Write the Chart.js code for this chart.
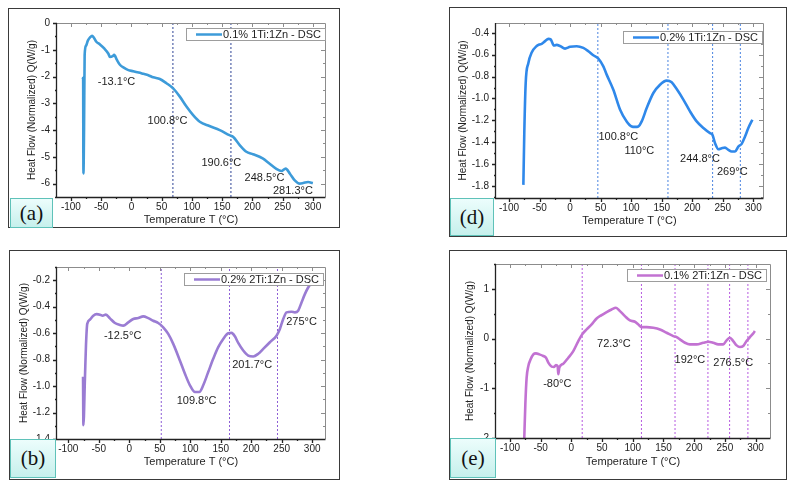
<!DOCTYPE html>
<html>
<head>
<meta charset="utf-8">
<script src="https://cdn.jsdelivr.net/npm/chart.js@4.4.0/dist/chart.umd.min.js"></script>
<style>
body { margin:0; background:#fff; width:794px; height:487px; position:relative; overflow:hidden; font-family:"Liberation Sans", Arial, sans-serif; }
.frame { position:absolute; border:1px solid #3a3a3a; box-sizing:border-box; }
canvas { position:absolute; }
.tag { position:absolute; box-sizing:border-box; border:1px solid #5fc2b9; background:linear-gradient(#ecfdfc, #c6f0ec);
       font-family:"Liberation Serif","DejaVu Serif",serif; font-size:21px; color:#111;
       display:flex; align-items:center; justify-content:center; }
</style>
</head>
<body>
<div class="frame" style="left:8px;top:8px;width:332px;height:220px"></div>
<div class="frame" style="left:9px;top:250px;width:331px;height:230px"></div>
<div class="frame" style="left:449px;top:7px;width:338px;height:230px"></div>
<div class="frame" style="left:449px;top:250px;width:338px;height:230px"></div>
<canvas id="chartA" width="332" height="220" style="left:8px;top:8px"></canvas>
<canvas id="chartB" width="331" height="230" style="left:9px;top:250px"></canvas>
<canvas id="chartD" width="338" height="230" style="left:449px;top:7px"></canvas>
<canvas id="chartE" width="338" height="230" style="left:449px;top:250px"></canvas>
<div class="tag" style="left:10px;top:198px;width:43px;height:30px">(a)</div>
<div class="tag" style="left:10px;top:439px;width:46px;height:39px">(b)</div>
<div class="tag" style="left:450px;top:198px;width:44px;height:38px">(d)</div>
<div class="tag" style="left:450px;top:438px;width:46px;height:40px">(e)</div>
<script>
// shared x ticks
var xTicks = [-100, -50, 0, 50, 100, 150, 200, 250, 300];

// (a) 0.1% 1Ti:1Zn
var aTemp = [-80.5,-79.8,-79.3,-78.3,-77.3,-75,-72,-68,-65,-62,-58,-52,-45,-38,-35.5,-31,-28.5,-24,-19,-12,-5,3,12,20,28,36,47,58,69,80,91,102,113,129,146,162,168,179,190,201,217,228,239,248,255,262,270,278,284,292,300];
var aFlow = [-2.1,-2.05,-5.62,-4.0,-1.2,-0.85,-0.66,-0.53,-0.48,-0.55,-0.7,-0.8,-0.95,-1.15,-1.27,-1.24,-1.19,-1.38,-1.56,-1.68,-1.76,-1.8,-1.85,-1.9,-1.95,-2.03,-2.09,-2.25,-2.44,-2.75,-3.12,-3.44,-3.69,-3.85,-4.0,-4.19,-4.25,-4.56,-4.81,-4.9,-5.06,-5.25,-5.44,-5.53,-5.44,-5.63,-5.88,-6.0,-5.98,-5.94,-5.98];
var aMarks = [68.6, 164.5];
var aNoteText = ["-13.1°C", "100.8°C", "190.6°C", "248.5°C", "281.3°C"];
var aNoteX = [-24.6, 59.6, 148.7, 220, 267];
var aNoteY = [-2.19, -3.66, -5.23, -5.78, -6.28];
var aYTicks = [0, -1, -2, -3, -4, -5, -6];

// (d) 0.2% 1Ti:1Zn
var dTemp = [-76.5,-75,-72.7,-68.3,-62.9,-54.7,-50.3,-46.5,-41,-35.6,-31.8,-26.3,-22,-16.5,-8.3,0,10.8,21.7,29.9,38,46.3,54.4,59.9,70.8,81.7,92.6,100.8,106.3,111.7,117.2,125.4,136.3,147.2,158.1,166.3,174.5,185.4,196.3,207.2,218.2,229.1,232.9,237.3,242.7,248.2,253.6,259.1,264.5,270,275.4,280.9,286.4,291.8,298.4];
var dFlow = [-1.79,-1.32,-0.86,-0.675,-0.58,-0.52,-0.507,-0.5,-0.476,-0.455,-0.46,-0.516,-0.51,-0.52,-0.544,-0.528,-0.522,-0.538,-0.568,-0.605,-0.635,-0.706,-0.782,-0.92,-1.1,-1.21,-1.256,-1.26,-1.256,-1.21,-1.088,-0.95,-0.874,-0.837,-0.852,-0.914,-1.01,-1.118,-1.21,-1.27,-1.317,-1.33,-1.409,-1.464,-1.455,-1.449,-1.47,-1.485,-1.485,-1.44,-1.415,-1.348,-1.27,-1.195];
var dMarks = [45.4, 160.2, 233.3, 278.7];
var dNoteText = ["100.8°C", "110°C", "244.8°C", "269°C"];
var dNoteX = [79, 113.4, 212.7, 265.6];
var dNoteY = [-1.348, -1.476, -1.556, -1.675];
var dYTicks = [-0.4, -0.6, -0.8, -1.0, -1.2, -1.4, -1.6, -1.8];

// (b) 0.2% 2Ti:1Zn
var bTemp = [-75.8,-75.2,-72.7,-71,-68.9,-64.5,-59,-53.6,-48,-43.7,-38.3,-31.7,-23.5,-15.3,-9.8,-1.6,6.6,14.8,23,31.1,39.3,47.5,55.7,63.9,72.1,83,91.3,99.5,107.7,114.8,121.3,129.5,137.7,145.9,154.1,162.3,167.8,173.2,178.7,186.9,195.1,203.3,211.5,219.7,230.6,241.5,247,252.5,257.9,266.1,271.6,277,282.5,288,293.4,298.9];
var bFlow = [-0.93,-1.295,-0.944,-0.694,-0.53,-0.498,-0.468,-0.456,-0.46,-0.468,-0.46,-0.488,-0.523,-0.538,-0.543,-0.518,-0.493,-0.486,-0.473,-0.486,-0.506,-0.523,-0.556,-0.606,-0.681,-0.806,-0.907,-0.994,-1.045,-1.045,-0.994,-0.894,-0.794,-0.706,-0.644,-0.601,-0.598,-0.624,-0.674,-0.731,-0.769,-0.776,-0.756,-0.719,-0.669,-0.619,-0.568,-0.493,-0.443,-0.438,-0.443,-0.43,-0.368,-0.305,-0.255,-0.218];
var bMarks = [52.5, 164.4, 243.1];
var bNoteText = ["-12.5°C", "109.8°C", "201.7°C", "275°C"];
var bNoteX = [-10.9, 110.4, 201.6, 282.5];
var bNoteY = [-0.619, -1.112, -0.839, -0.518];
var bYTicks = [-0.2, -0.4, -0.6, -0.8, -1.0, -1.2, -1.4];

// (e) 0.1% 2Ti:1Zn
var eTemp = [-77,-75,-72.9,-70.1,-66.4,-62,-57.7,-52.2,-45.7,-41.4,-37.6,-32.2,-28.4,-25.1,-22.4,-21.3,-19.7,-13.2,-5,3.1,11.3,18.3,24.8,33,41.1,49.3,57.4,65.5,72.6,79.1,87.2,95.4,103.5,109,114.4,122.5,133.4,144.2,155.1,166,171.4,176.8,185,193.1,204,214.8,222.9,231.1,239.2,247.4,252.8,258.2,263.6,269.1,274.5,279.9,285.3,290.8,296.2,298.9];
var eFlow = [-2.1,-1.32,-0.786,-0.552,-0.418,-0.318,-0.298,-0.318,-0.351,-0.385,-0.485,-0.565,-0.572,-0.532,-0.552,-0.719,-0.585,-0.505,-0.385,-0.251,-0.05,0.097,0.184,0.284,0.405,0.472,0.532,0.585,0.619,0.552,0.452,0.365,0.338,0.284,0.231,0.231,0.217,0.184,0.117,0.05,0.03,-0.017,-0.084,-0.117,-0.117,-0.084,-0.064,-0.084,-0.117,-0.117,-0.037,0.017,-0.05,-0.137,-0.171,-0.151,-0.05,0.03,0.104,0.151];
var eMarks = [17.6, 114.1, 168.8, 222.4, 257.7, 287.5];
var eNoteText = ["-80°C", "72.3°C", "192°C", "276.5°C"];
var eNoteX = [-22.9, 69.3, 193.1, 263.6];
var eNoteY = [-0.906, -0.104, -0.438, -0.485];
var eYTicks = [1, 0, -1, -2];

var FONT = '"Liberation Sans", Arial, sans-serif';

// frame: dark left/bottom axes, grey top/right, ticks (inward on top/right)
var boxPlugin = {
    id: 'box',
    afterDatasetsDraw: function(chart) {
        var a = chart.chartArea, c = chart.ctx, xs = chart.scales.x, ys = chart.scales.y;
        c.save();
        c.strokeStyle = '#8c8c8c';
        c.lineWidth = 1;
        c.beginPath();
        c.moveTo(a.left, a.top + 0.5); c.lineTo(a.right + 0.5, a.top + 0.5); c.lineTo(a.right + 0.5, a.bottom);
        xs.ticks.forEach(function(t) {
            var p = Math.round(xs.getPixelForValue(t.value)) + 0.5;
            c.moveTo(p, a.top); c.lineTo(p, a.top + (t.label ? 4 : 2));
        });
        ys.ticks.forEach(function(t) {
            var p = Math.round(ys.getPixelForValue(t.value)) + 0.5;
            c.moveTo(a.right, p); c.lineTo(a.right - (t.label ? 4 : 2), p);
        });
        c.stroke();
        c.strokeStyle = '#222';
        c.lineWidth = 1.3;
        c.beginPath();
        c.moveTo(a.left - 0.5, a.top); c.lineTo(a.left - 0.5, a.bottom + 0.5); c.lineTo(a.right + 0.5, a.bottom + 0.5);
        xs.ticks.forEach(function(t) {
            var p = Math.round(xs.getPixelForValue(t.value)) + 0.5;
            c.moveTo(p, a.bottom); c.lineTo(p, a.bottom + (t.label ? 4 : 2));
        });
        ys.ticks.forEach(function(t) {
            var p = Math.round(ys.getPixelForValue(t.value)) + 0.5;
            c.moveTo(a.left, p); c.lineTo(a.left - (t.label ? 4 : 2), p);
        });
        c.stroke();
        c.restore();
    }
};

// temperature notes
var notePlugin = {
    id: 'notes',
    afterDatasetsDraw: function(chart, args, opts) {
        var c = chart.ctx, xs = chart.scales.x, ys = chart.scales.y;
        c.save();
        c.font = '11px ' + FONT;
        c.fillStyle = '#1e1e1e';
        c.textAlign = 'center';
        c.textBaseline = 'middle';
        opts.text.forEach(function(t, i) {
            c.fillText(t, xs.getPixelForValue(opts.x[i]), ys.getPixelForValue(opts.y[i]));
        });
        c.restore();
    }
};

// legend box inside plot, top right
var legendPlugin = {
    id: 'boxLegend',
    afterDraw: function(chart, args, opts) {
        var a = chart.chartArea, c = chart.ctx;
        var ds = chart.data.datasets[0];
        var w = 139, h = 12;
        var left = a.right - opts.right - w, top = a.top + opts.top;
        c.save();
        c.fillStyle = '#fff';
        c.fillRect(left, top, w, h);
        c.strokeStyle = '#9d9d9d';
        c.lineWidth = 1;
        c.strokeRect(left + 0.5, top + 0.5, w, h);
        c.strokeStyle = ds.borderColor;
        c.lineWidth = 2.5;
        c.beginPath();
        c.moveTo(left + 10, top + h / 2 + 0.5); c.lineTo(left + 36, top + h / 2 + 0.5);
        c.stroke();
        c.font = '11px ' + FONT;
        c.fillStyle = '#1e1e1e';
        c.textBaseline = 'middle';
        c.fillText(ds.label, left + 37, top + h / 2 + 1);
        c.restore();
    }
};

function makePanel(id, p) {
    var datasets = [{
        label: p.label,
        data: p.temp.map(function(t, i) { return { x: t, y: p.flow[i] }; }),
        borderColor: p.color,
        borderWidth: 2.6,
        pointRadius: 0,
        cubicInterpolationMode: 'monotone',
        fill: false
    }];
    p.marks.forEach(function(m) {
        datasets.push({
            label: '',
            data: [{ x: m, y: p.yMin }, { x: m, y: p.yMax }],
            borderColor: p.markColor,
            borderWidth: 1,
            borderDash: [2, 2],
            pointRadius: 0
        });
    });

    var xAll = [];
    for (var v = -125; v <= 325; v += 25) if (v >= p.xMin && v <= p.xMax) xAll.push(v);
    var yAll = [];
    var ys = p.yTicks.slice().sort(function(a, b) { return a - b; });
    var half = (ys[1] - ys[0]) / 2;
    for (var k = 0; k < ys.length; k++) {
        yAll.push(ys[k]);
        if (ys[k] + half <= p.yMax) yAll.push(ys[k] + half);
    }
    if (ys[0] - half >= p.yMin) yAll.unshift(ys[0] - half);

    new Chart(document.getElementById(id).getContext('2d'), {
        type: 'line',
        data: { datasets: datasets },
        plugins: [boxPlugin, notePlugin, legendPlugin],
        options: {
            responsive: false,
            animation: false,
            devicePixelRatio: 1,
            layout: { padding: { left: 0, top: p.padTop, right: p.padRight, bottom: 0 } },
            scales: {
                x: {
                    type: 'linear',
                    min: p.xMin,
                    max: p.xMax,
                    grid: { display: false, drawTicks: false },
                    border: { display: false },
                    afterBuildTicks: function(s) { s.ticks = xAll.map(function(v) { return { value: v }; }); },
                    afterFit: function(s) { s.height = p.xHeight; s.paddingLeft = 0; s.paddingRight = 0; },
                    ticks: {
                        autoSkip: false,
                        maxRotation: 0,
                        padding: 4,
                        color: '#222',
                        font: { family: FONT, size: 10 },
                        callback: function(v) { return xTicks.indexOf(v) >= 0 ? String(v) : ''; }
                    },
                    title: {
                        display: true,
                        text: 'Temperature T (°C)',
                        color: '#1e1e1e',
                        font: { family: FONT, size: 11 },
                        padding: { top: 0, bottom: p.xTitlePad }
                    }
                },
                y: {
                    type: 'linear',
                    min: p.yMin,
                    max: p.yMax,
                    grid: { display: false, drawTicks: false },
                    border: { display: false },
                    afterBuildTicks: function(s) { s.ticks = yAll.map(function(v) { return { value: v }; }); },
                    afterFit: function(s) { s.width = p.yWidth; s.paddingTop = 0; s.paddingBottom = 0; },
                    ticks: {
                        autoSkip: false,
                        padding: 7,
                        color: '#222',
                        font: { family: FONT, size: 10 },
                        callback: function(v) {
                            for (var i = 0; i < p.yTicks.length; i++) {
                                if (Math.abs(p.yTicks[i] - v) < 1e-6) return p.yTicks[i].toFixed(p.dec);
                            }
                            return '';
                        }
                    },
                    title: {
                        display: true,
                        text: 'Heat Flow (Normalized) Q(W/g)',
                        color: '#1e1e1e',
                        font: { family: FONT, size: 10 },
                        padding: { top: p.yTitlePad, bottom: 0 }
                    }
                }
            },
            plugins: {
                legend: { display: false },
                tooltip: { enabled: false },
                notes: { text: p.noteText, x: p.noteX, y: p.noteY },
                boxLegend: { right: p.legRight, top: p.legTop }
            }
        }
    });
}

makePanel('chartA', {
    label: '0.1% 1Ti:1Zn - DSC', temp: aTemp, flow: aFlow, marks: aMarks,
    noteText: aNoteText, noteX: aNoteX, noteY: aNoteY, yTicks: aYTicks, dec: 0,
    color: '#3d9bd9', markColor: '#2f4496',
    xMin: -123, xMax: 320, yMin: -6.5, yMax: 0,
    padTop: 15, padRight: 15, yWidth: 49, xHeight: 31, xTitlePad: 1.4, yTitlePad: 18,
    legRight: 0, legTop: 5
});
makePanel('chartB', {
    label: '0.2% 2Ti:1Zn - DSC', temp: bTemp, flow: bFlow, marks: bMarks,
    noteText: bNoteText, noteX: bNoteX, noteY: bNoteY, yTicks: bYTicks, dec: 1,
    color: '#9a7cd3', markColor: '#8e5fd6',
    xMin: -118.5, xMax: 321, yMin: -1.4, yMax: -0.1,
    padTop: 17, padRight: 15, yWidth: 48, xHeight: 41, xTitlePad: 11.4, yTitlePad: 9,
    legRight: 2, legTop: 6
});
makePanel('chartD', {
    label: '0.2% 1Ti:1Zn - DSC', temp: dTemp, flow: dFlow, marks: dMarks,
    noteText: dNoteText, noteX: dNoteX, noteY: dNoteY, yTicks: dYTicks, dec: 1,
    color: '#2f88ea', markColor: '#4a84e0',
    xMin: -121.3, xMax: 315.8, yMin: -1.91, yMax: -0.31,
    padTop: 16, padRight: 24, yWidth: 47, xHeight: 39, xTitlePad: 9.7, yTitlePad: 8.3,
    legRight: 1, legTop: 8
});
makePanel('chartE', {
    label: '0.1% 2Ti:1Zn - DSC', temp: eTemp, flow: eFlow, marks: eMarks,
    noteText: eNoteText, noteX: eNoteX, noteY: eNoteY, yTicks: eYTicks, dec: 0,
    color: '#c272d2', markColor: '#b75ae0',
    xMin: -122.8, xMax: 323.5, yMin: -2, yMax: 1.5,
    padTop: 14, padRight: 17, yWidth: 47, xHeight: 42, xTitlePad: 11, yTitlePad: 15.7,
    legRight: 4, legTop: 5
});
</script>
</body>
</html>
